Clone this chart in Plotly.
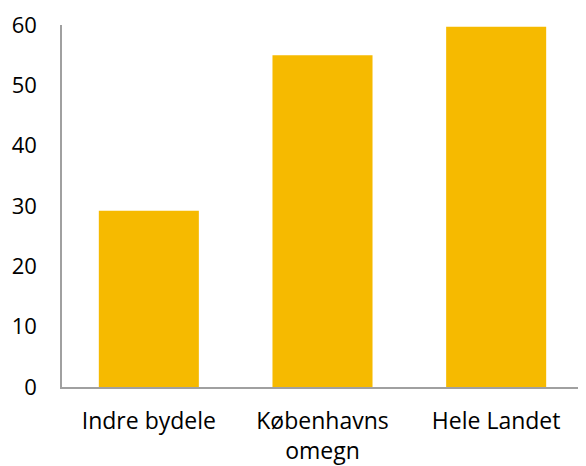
import plotly.graph_objects as go

categories = ["Indre bydele", "Københavns<br>omegn", "Hele Landet"]
values = [29.2, 55.0, 59.7]
y_ticks = [0, 10, 20, 30, 40, 50, 60]

fig = go.Figure(go.Bar(x=categories, y=values, marker=dict(color="#F6BA00", line=dict(width=0)),
                       hoverinfo="skip"))
# page body has an 8px default margin, so the figure is offset by (8, 8)
fig.update_layout(
    width=578, height=458,
    margin=dict(l=54, r=3, t=17, b=79),
    plot_bgcolor="white", paper_bgcolor="white",
    bargap=0.424,
    showlegend=False,
    font=dict(family="Open Sans", size=22, color="#000000"),
)
fig.update_yaxes(range=[0, 60], tickvals=y_ticks, showgrid=False, zeroline=False,
                 showline=True, linecolor="#A0A0A0", linewidth=1.5,
                 ticks="", ticklabelstandoff=19, automargin=False,
                 tickfont=dict(size=22))
fig.update_xaxes(showgrid=False, showline=True, linecolor="#A0A0A0", linewidth=1.5,
                 ticks="", ticklabelstandoff=13, automargin=False,
                 tickfont=dict(size=23))
fig.write_html("out.html")
